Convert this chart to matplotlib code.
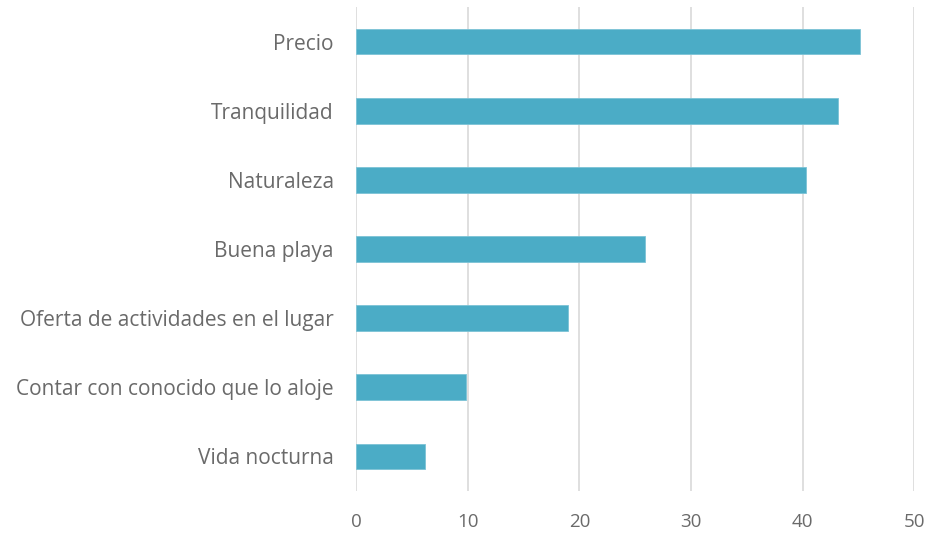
#!/usr/bin/env python
import numpy as np
import matplotlib.pyplot as plt

categories = [
    'Precio',
    'Tranquilidad',
    'Naturaleza',
    'Buena playa',
    'Oferta de actividades en el lugar',
    'Contar con conocido que lo aloje',
    'Vida nocturna',
]
values = [45.1, 43.2, 40.3, 25.85, 18.95, 9.85, 6.15]
xticks = [0, 10, 20, 30, 40, 50]

bar_color = '#4BACC6'
text_color = '#6a6a6a'

plt.rcParams['font.family'] = ['Open Sans', 'DejaVu Sans']

fig = plt.figure(figsize=(9.28, 5.37), dpi=100)
ax = fig.add_axes([356/928, 1 - 491/537, (914.3 - 356)/928, (491 - 7)/537])

y = np.arange(len(categories))[::-1]
ax.barh(y, values, height=0.37, color=bar_color, edgecolor='#7cc3d6', linewidth=0.6, zorder=3)

ax.set_xlim(0, 50)
ax.set_ylim(-0.5, len(categories) - 0.5)
ax.set_xticks(xticks)
ax.set_yticks(y)
ax.set_yticklabels(categories)

ax.grid(axis='x', color='#d9d9d9', linewidth=1.2, zorder=0)
for s in ax.spines.values():
    s.set_visible(False)

ax.tick_params(axis='x', length=0, pad=16, labelsize=13.5, colors=text_color)
ax.tick_params(axis='y', length=0, pad=16, labelsize=15, colors=text_color)

fig.savefig('out.png', dpi=100)
